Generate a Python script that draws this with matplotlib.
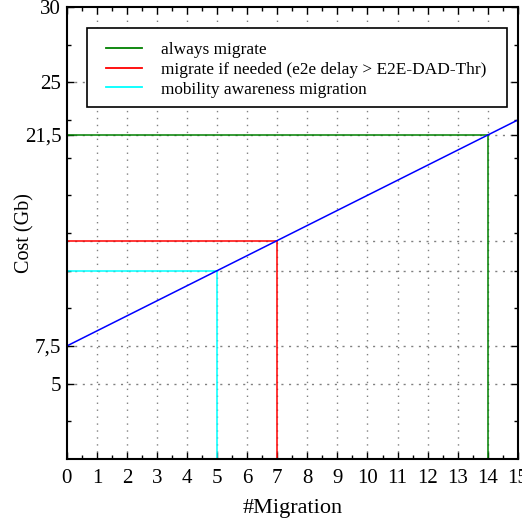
import matplotlib
matplotlib.use('Agg')
import matplotlib.pyplot as plt
import matplotlib.patches as patches
from matplotlib.ticker import MultipleLocator, FixedLocator

plt.rcParams['font.family'] = ['Liberation Serif', 'DejaVu Serif']

# data
x_line = [0, 15]
y_line = [7.5, 22.5]
labels = ['always migrate',
          'migrate if needed (e2e delay > E2E-DAD-Thr)',
          'mobility awareness migration']
colors = ['green', 'red', 'cyan']
mig_x = [14, 7, 5]
mig_y = [21.5, 14.5, 12.5]
y_grid = [5, 7.5, 12.5, 14.5, 21.5, 25]
y_ticks = [5, 7.5, 21.5, 25, 30]
y_ticklabels = ['5', '7,5', '21,5', '25', '30']
x_ticks = list(range(0, 16))

fig = plt.figure(figsize=(5.22, 5.19), dpi=100)
ax = fig.add_axes([0.128, 0.1156, 0.864, 0.871])
ax.set_xlim(0, 15)
ax.set_ylim(0, 30)

# grid
for xv in x_ticks[1:-1]:
    ax.axvline(xv, color='gray', ls=(0, (1, 4)), lw=1, zorder=0)
for yv in y_grid:
    ax.axhline(yv, color='gray', ls=(0, (1.5, 4)), lw=1, zorder=0)

# migration lines
for xm, ym, c, lab in zip(mig_x, mig_y, colors, labels):
    ax.plot([0, xm], [ym, ym], color=c, lw=1.1, label=lab)
    ax.plot([xm, xm], [0, ym], color=c, lw=1.1)

ax.plot(x_line, y_line, color='blue', lw=1.1)

ax.set_xticks(x_ticks)
ax.set_yticks(y_ticks)
ax.set_yticklabels(y_ticklabels)
ax.xaxis.set_minor_locator(MultipleLocator(0.5))
ax.yaxis.set_minor_locator(FixedLocator([2.5, 10, 12.5, 15, 17.5, 20, 22.5, 27.5]))
ax.tick_params(which='both', direction='in', top=True, right=True,
               labelsize=15, length=5, width=1, pad=4)
ax.tick_params(axis='x', pad=7)
ax.tick_params(which='minor', length=3)
for s in ax.spines.values():
    s.set_linewidth(1.5)

ax.set_xlabel('#Migration', fontsize=16, labelpad=8)
ax.set_ylabel('Cost (Gb)', fontsize=14.5, labelpad=-7)

# legend box
box = patches.Rectangle((0.0443, 0.7788), 0.9313, 0.1747, transform=ax.transAxes,
                        facecolor='white', edgecolor='black', lw=1.2, zorder=4)
ax.add_patch(box)
leg = ax.legend(loc='upper left', bbox_to_anchor=(0.0865, 0.923), fontsize=12.4,
                frameon=False, handlelength=2.1, handletextpad=1.1, borderpad=0,
                labelspacing=0.22, borderaxespad=0)
leg.set_zorder(5)
for h in leg.get_lines():
    h.set_linewidth(1.3)

fig.savefig('out.png', dpi=100)
